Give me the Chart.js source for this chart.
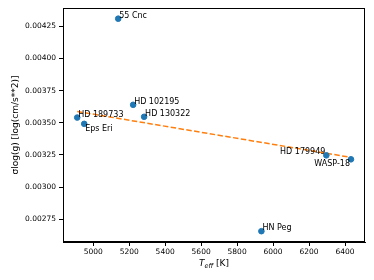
<!DOCTYPE html>
<html>
<head>
<meta charset="utf-8">
<script src="https://cdn.jsdelivr.net/npm/chart.js@4.4.0/dist/chart.umd.min.js"></script>
<style>
  body { margin: 0; background: #fff; }
  #wrap { width: 374px; height: 280px; }
</style>
</head>
<body>
<div id="wrap"><canvas id="scatterChart" width="374" height="280"></canvas></div>
<script>
// stars and their values
var stars = ['HD 189733', 'Eps Eri', '55 Cnc', 'HD 102195', 'HD 130322', 'HN Peg', 'HD 179949', 'WASP-18'];
var teff = [4911, 4950, 5139, 5222, 5283, 5935, 6296, 6433];
var sigmaLogg = [0.003541, 0.003492, 0.004310, 0.003640, 0.003547, 0.002657, 0.003247, 0.003216];

// linear fit, end points
var fitX = [4911, 6433];
var fitY = [0.003588, 0.003231];

var xTicks = [5000, 5200, 5400, 5600, 5800, 6000, 6200, 6400];
var yTicks = [0.00275, 0.00300, 0.00325, 0.00350, 0.00375, 0.00400, 0.00425];

// label placement: [horizontal align, vertical align]
var labelAlign = {
    'Eps Eri': ['left', 'top'],
    'HD 179949': ['right', 'alphabetic'],
    'WASP-18': ['right', 'top']
};

var font = 'DejaVu Sans';

var labelPlugin = {
    id: 'labels',
    afterDatasetsDraw: function (chart) {
        var c = chart.ctx;
        var meta = chart.getDatasetMeta(0);
        c.save();
        c.fillStyle = '#000';
        c.font = '8px "' + font + '"';
        meta.data.forEach(function (pt, i) {
            var al = labelAlign[stars[i]] || ['left', 'alphabetic'];
            c.textAlign = al[0];
            c.textBaseline = al[1];
            var dy = al[1] == 'top' ? 1 : -1;
            c.fillText(stars[i], pt.x + (al[0] == 'left' ? 1 : -1), pt.y + dy);
        });
        c.restore();
    },
    afterDraw: function (chart) {
        var c = chart.ctx;
        var a = chart.chartArea;
        c.save();
        c.strokeStyle = '#000';
        c.lineWidth = 1;
        c.strokeRect(a.left + 0.5, a.top + 0.5, a.right - a.left - 1, a.bottom - a.top - 1);
        // x axis title: T_eff [K]
        var cx = (a.left + a.right) / 2;
        var y = 266;
        c.fillStyle = '#000';
        c.textBaseline = 'alphabetic';
        c.font = 'italic 9px "' + font + '"';
        var wT = c.measureText('T').width;
        c.font = 'italic 6.5px "' + font + '"';
        var wE = c.measureText('eff').width;
        c.font = '9px "' + font + '"';
        var wK = c.measureText(' [K]').width;
        var x0 = cx - (wT + wE + wK) / 2;
        c.textAlign = 'left';
        c.font = 'italic 9px "' + font + '"';
        c.fillText('T', x0, y);
        c.font = 'italic 6.5px "' + font + '"';
        c.fillText('eff', x0 + wT, y + 2);
        c.font = '9px "' + font + '"';
        c.fillText(' [K]', x0 + wT + wE, y);
        c.restore();
    }
};

var ctx = document.getElementById('scatterChart').getContext('2d');
var myChart = new Chart(ctx, {
    type: 'scatter',
    data: {
        datasets: [{
            data: teff.map(function (t, i) { return { x: t, y: sigmaLogg[i] }; }),
            backgroundColor: '#1f77b4',
            borderColor: '#1f77b4',
            pointRadius: 2.8,
            order: 1
        }, {
            type: 'line',
            data: fitX.map(function (t, i) { return { x: t, y: fitY[i] }; }),
            borderColor: '#ff7f0e',
            borderWidth: 1.5,
            borderDash: [5.5, 2.4],
            pointRadius: 0,
            fill: false,
            order: 2
        }]
    },
    options: {
        responsive: false,
        animation: false,
        layout: { padding: { top: 8, right: 9, left: 0, bottom: 0 } },
        plugins: {
            legend: { display: false },
            tooltip: { enabled: false }
        },
        scales: {
            x: {
                type: 'linear',
                min: 4832,
                max: 6511,
                afterBuildTicks: function (s) { s.ticks = xTicks.map(function (v) { return { value: v }; }); },
                afterFit: function (s) { s.height = 38; },
                ticks: {
                    color: '#000',
                    font: { family: font, size: 7.5 },
                    padding: 2,
                    maxRotation: 0,
                    callback: function (v) { return v; }
                },
                grid: { drawOnChartArea: false, drawTicks: true, tickLength: 4, color: '#000' },
                border: { display: true, color: '#000' }
            },
            y: {
                min: 0.002573,
                max: 0.004393,
                afterBuildTicks: function (s) { s.ticks = yTicks.map(function (v) { return { value: v }; }); },
                afterFit: function (s) { s.width = 63; },
                ticks: {
                    color: '#000',
                    font: { family: font, size: 7.5 },
                    padding: 3,
                    callback: function (v) { return v.toFixed(5); }
                },
                grid: { drawOnChartArea: false, drawTicks: true, tickLength: 4, color: '#000' },
                border: { display: true, color: '#000' },
                title: {
                    display: true,
                    text: 'σlog(g) [log(cm/s**2)]',
                    color: '#000',
                    font: { family: font, size: 9 },
                    padding: { top: 10, bottom: 0 }
                }
            }
        }
    },
    plugins: [labelPlugin]
});
</script>
</body>
</html>
